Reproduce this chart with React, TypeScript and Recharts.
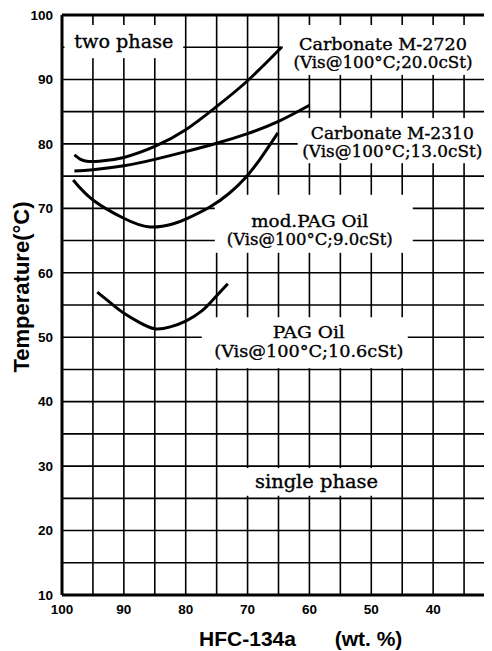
import {
  LineChart,
  Line,
  XAxis,
  YAxis,
  CartesianGrid,
  ReferenceArea,
  ReferenceLine,
  Label,
} from "recharts";

// HFC-134a content (wt. %) vs two-phase separation temperature (°C)
const m2720X = [98, 97, 96, 94, 90, 85, 80, 75, 70, 64.5];
const m2720Y = [78.3, 77.6, 77.3, 77.3, 77.9, 79.6, 82.2, 85.8, 89.8, 95];

const m2310X = [98, 95, 90, 85, 80, 75, 70, 65, 60];
const m2310Y = [75.8, 76.0, 76.6, 77.6, 78.8, 80.1, 81.6, 83.5, 86];

const modPagX = [98.2, 95, 90.1, 85.8, 82, 79.8, 76.1, 73, 70.5, 68, 65.1];
const modPagY = [74.4, 71.3, 68.5, 67.1, 67.6, 68.4, 70.2, 72.3, 74.6, 77.6, 81.7];

const pagX = [94.3, 92, 90.1, 87.5, 85, 82.5, 80, 77.5, 75.6, 73.2];
const pagY = [57.0, 55.2, 53.8, 52.3, 51.3, 51.6, 52.5, 54.0, 55.8, 58.3];

const xTicks = [100, 95, 90, 85, 80, 75, 70, 65, 60, 55, 50, 45, 40, 35, 30];
const yTicks = [10, 15, 20, 25, 30, 35, 40, 45, 50, 55, 60, 65, 70, 75, 80, 85, 90, 95, 100];

const toPoints = (xs: number[], ys: number[]) => xs.map((x, i) => ({ x, y: ys[i] }));

const series = [
  { name: "Carbonate M-2720", points: toPoints(m2720X, m2720Y) },
  { name: "Carbonate M-2310", points: toPoints(m2310X, m2310Y) },
  { name: "mod.PAG Oil", points: toPoints(modPagX, modPagY) },
  { name: "PAG Oil", points: toPoints(pagX, pagY) },
];

// white label boxes that knock out the grid; [text, font size, baseline from box top, width]
const notes = [
  { x1: 80.4, x2: 99.6, y1: 93.3, y2: 98.45, dx: 0, lines: [["two phase", 19, 23, 99]] },
  {
    x1: 31.6, x2: 64.3, y1: 90.7, y2: 98.45, dx: -1,
    lines: [["Carbonate M-2720", 16.5, 25, 168], ["(Vis@100°C;20.0cSt)", 16, 43, 179]],
  },
  {
    x1: 31.3, x2: 61.9, y1: 77.0, y2: 84.0, dx: 0,
    lines: [["Carbonate M-2310", 16.5, 21, 163], ["(Vis@100°C;13.0cSt)", 16, 39, 180]],
  },
  {
    x1: 43.3, x2: 75.3, y1: 63.1, y2: 72.1, dx: -4,
    lines: [["mod.PAG Oil", 17, 32, 117], ["(Vis@100°C;9.0cSt)", 16, 50, 166]],
  },
  {
    x1: 44.1, x2: 77.4, y1: 45.2, y2: 53.1, dx: 4,
    lines: [["PAG Oil", 17, 21, 72], ["(Vis@100°C;10.6cSt)", 16.5, 40, 189]],
  },
  { x1: 45.7, x2: 70.4, y1: 25.4, y2: 29.7, dx: -5, lines: [["single phase", 19, 20, 123]] },
];

const serif = "'DejaVu Serif', serif";
const sans = "'Liberation Sans', Arial, sans-serif";

function NoteBox(props: any) {
  const { x, y, width, height, note } = props;
  const cx = x + width / 2 + note.dx;
  return (
    <g>
      <rect x={x} y={y} width={width} height={height} fill="#fff" />
      {note.lines.map(([text, size, base, w]: [string, number, number, number]) => (
        <text
          key={text}
          x={cx}
          y={y + base}
          textAnchor="middle"
          fontFamily={serif}
          fontSize={size}
          textLength={w}
          lengthAdjust="spacingAndGlyphs"
          fill="#000"
          stroke="#000"
          strokeWidth={0.35}
        >
          {text}
        </text>
      ))}
    </g>
  );
}

const YTitle = () => (
  <text
    x={13}
    y={279}
    transform="rotate(-90, 13, 279)"
    textAnchor="middle"
    dominantBaseline="central"
    fontFamily={sans}
    fontWeight={700}
    fontSize={22}
    fill="#000"
  >
    Temperature(°C)
  </text>
);

const XTitle = () => (
  <g fontFamily={sans} fontWeight={700} fontSize={21} fill="#000">
    <text x={239.5} y={638} textAnchor="middle">HFC-134a</text>
    <text x={360.5} y={638} textAnchor="middle">(wt. %)</text>
  </g>
);

const tickStyle = { fill: "#000", fontSize: 13.5, fontWeight: 700, fontFamily: sans };

export default function App() {
  return (
    <div style={{ width: 484, overflow: "hidden" }}>
      <LineChart width={487} height={642} margin={{ top: 7, right: 0, left: 14, bottom: 0 }}>
        <CartesianGrid stroke="#000" strokeWidth={1.6} />
        <XAxis
          type="number"
          dataKey="x"
          domain={[30, 100]}
          reversed
          ticks={xTicks}
          interval={0}
          tickFormatter={(v: number) => (v % 10 === 0 && v >= 40 ? String(v) : "")}
          tickLine={false}
          tickMargin={3}
          axisLine={{ stroke: "#000", strokeWidth: 3 }}
          tick={tickStyle}
          height={55}
        >
          <Label content={XTitle} />
        </XAxis>
        <YAxis
          type="number"
          dataKey="y"
          domain={[10, 100]}
          ticks={yTicks}
          interval={0}
          tickFormatter={(v: number) => (v % 10 === 0 ? String(v) : "")}
          tickLine={false}
          tickSize={0}
          tickMargin={9}
          axisLine={{ stroke: "#000", strokeWidth: 3 }}
          tick={tickStyle}
          width={40}
        >
          <Label content={YTitle} />
        </YAxis>
        {notes.map((n, i) => (
          <ReferenceArea
            key={i}
            x1={n.x1}
            x2={n.x2}
            y1={n.y1}
            y2={n.y2}
            shape={(p: any) => <NoteBox {...p} note={n} />}
          />
        ))}
        <ReferenceLine y={100} stroke="#000" strokeWidth={3} />
        {series.map((s) => (
          <Line
            key={s.name}
            data={s.points}
            dataKey="y"
            type="natural"
            stroke="#000"
            strokeWidth={3}
            dot={false}
            isAnimationActive={false}
          />
        ))}
      </LineChart>
    </div>
  );
}
